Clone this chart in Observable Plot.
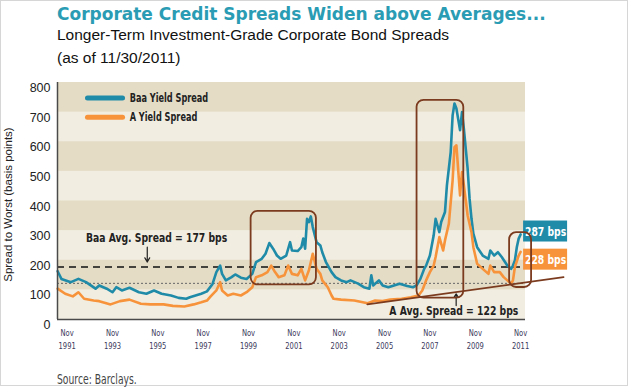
<!DOCTYPE html>
<html><head><meta charset="utf-8">
<script src="https://cdn.jsdelivr.net/npm/d3@7"></script>
<script src="https://cdn.jsdelivr.net/npm/@observablehq/plot@0.6"></script>
<style>
html,body{margin:0;padding:0;background:#fff;}
#wrap{position:relative;width:630px;height:387px;overflow:hidden;background:#fff;}
#border{position:absolute;left:0;top:0;width:626px;height:384px;border:1px solid #d6d6d6;}
.t{position:absolute;white-space:nowrap;line-height:1;}
#title{left:57px;top:4px;font:bold 17px "DejaVu Sans",sans-serif;color:#2a9cb3;}
#sub1{left:57px;top:26px;font:15.5px "Liberation Sans",Arial,sans-serif;color:#111;}
#sub2{left:57px;top:48.5px;font:15.5px "Liberation Sans",Arial,sans-serif;color:#111;}
#source{left:57px;top:370.5px;font:13.5px "DejaVu Sans Condensed",sans-serif;color:#444;transform:scaleX(0.76);transform-origin:0 0;}
svg{position:absolute;left:0;top:0;}
</style></head><body>
<div id="wrap">
<div id="border"></div>
<div class="t" id="title">Corporate Credit Spreads Widen above Averages...</div>
<div class="t" id="sub1">Longer-Term Investment-Grade Corporate Bond Spreads</div>
<div class="t" id="sub2">(as of 11/30/2011)</div>
<div class="t" id="source">Source: Barclays.</div>
</div>
<script>
// ---------- data ----------
const baaDates = ["1991-06","1991-08","1992-01","1992-05","1992-09","1993-02","1993-04","1993-08","1993-11","1994-01","1994-04","1994-08","1995-01","1995-05","1995-09","1996-01","1996-06","1996-10","1997-02","1997-04","1997-07","1997-10","1998-01","1998-04","1998-06","1998-08","1998-09","1998-11","1999-02","1999-04","1999-07","1999-10","2000-01","2000-03","2000-06","2000-08","2000-10","2000-12","2001-02","2001-04","2001-07","2001-09","2001-10","2002-01","2002-03","2002-04","2002-05","2002-06","2002-07","2002-08","2002-09","2002-11","2003-01","2003-02","2003-04","2003-07","2003-09","2003-12","2004-03","2004-05","2004-09","2004-12","2005-03","2005-04","2005-05","2005-08","2005-10","2006-01","2006-04","2006-07","2006-11","2007-02","2007-04","2007-06","2007-08","2007-09","2007-11","2008-01","2008-02","2008-04","2008-05","2008-07","2008-08","2008-10","2008-11","2008-12","2009-01","2009-03","2009-04","2009-05","2009-07","2009-08","2009-09","2009-10","2009-12","2010-03","2010-06","2010-07","2010-09","2010-11","2011-01","2011-04","2011-06","2011-07","2011-08","2011-09","2011-10","2011-11"];
const baaValues = [163,137,126,137,126,104,115,104,92,109,98,107,92,87,98,87,81,73,70,75,81,87,95,120,160,182,154,132,143,152,141,137,154,194,205,222,258,239,216,205,216,261,233,231,244,273,239,340,329,348,312,261,250,227,194,160,143,132,126,132,121,109,104,149,115,132,115,109,115,121,113,109,115,137,171,182,216,284,340,295,329,363,453,565,689,729,712,639,700,644,509,408,340,290,244,216,205,233,216,227,211,182,171,182,199,244,273,287];

const aDates = ["1991-06","1991-10","1992-02","1992-05","1992-08","1993-01","1993-04","1993-10","1994-03","1994-08","1995-02","1995-07","1996-02","1996-07","1997-01","1997-06","1997-10","1998-01","1998-03","1998-06","1998-08","1998-09","1998-12","1999-03","1999-07","1999-10","2000-01","2000-03","2000-06","2000-09","2000-11","2001-01","2001-03","2001-06","2001-08","2001-10","2002-01","2002-03","2002-05","2002-07","2002-08","2002-09","2002-11","2003-01","2003-02","2003-05","2003-07","2003-08","2003-12","2004-07","2005-02","2005-06","2005-10","2006-02","2006-08","2007-01","2007-05","2007-07","2007-09","2007-11","2008-01","2008-02","2008-04","2008-06","2008-07","2008-09","2008-11","2008-12","2009-01","2009-03","2009-04","2009-05","2009-07","2009-09","2009-10","2009-12","2010-03","2010-06","2010-07","2010-09","2010-12","2011-02","2011-04","2011-06","2011-07","2011-08","2011-10","2011-11"];
const aValues = [104,87,78,92,70,64,62,51,62,67,53,51,51,46,44,51,58,64,78,98,126,98,81,87,81,92,109,143,149,160,182,160,143,149,182,154,149,171,132,166,194,222,171,154,132,109,81,70,67,64,55,64,62,67,70,75,81,98,132,160,182,211,278,233,267,323,470,582,588,419,498,453,351,295,244,188,171,154,182,160,160,143,132,121,132,177,216,228];

const seriesNames = ["Baa Yield Spread", "A Yield Spread"];
const averageValues = [177, 122];
const averageLabels = ["Baa Avg. Spread = 177 bps", "A Avg. Spread = 122 bps"];
const lastValues = [287, 228];
const xTickYears = [1991,1993,1995,1997,1999,2001,2003,2005,2007,2009,2011];
const xTickMonth = "Nov";
const yTicks = [0,100,200,300,400,500,600,700,800];
const bandStarts = [100,300,500,700];

// highlight boxes (in data space)
const boxStart = ["1999-12-13","2007-04-08","2011-05-08"];
const boxEnd   = ["2002-10-30","2009-04-30","2012-04-26"];
const boxLow   = [117, 72, 108];
const boxHigh  = [365, 740, 293];
const trendDates = ["2005-01-26","2013-09-24"];
const trendValues = [51, 143];

// ---------- build ----------
const pm = d3.utcParse("%Y-%m");
const pd = d3.utcParse("%Y-%m-%d");
const baa = baaDates.map((d,i)=>({date: pm(d), value: baaValues[i]}));
const aS  = aDates.map((d,i)=>({date: pm(d), value: aValues[i]}));
const xTicks = xTickYears.map(y => new Date(Date.UTC(y,10,1)));
const boxes = boxStart.map((d,i)=>({x1: pd(d), x2: pd(boxEnd[i]), y1: boxLow[i], y2: boxHigh[i]}));
const trend = trendDates.map((d,i)=>({date: pd(d), value: trendValues[i]}));

const TEAL = "#1f8ba9", ORANGE = "#f7933b", BROWN = "#7b3b1f";
const NARROW = '"DejaVu Sans Condensed","Liberation Sans Narrow",sans-serif';
const x0 = pd("1991-05-30"), x1 = pd("2012-01-19");
const lastDate = baa[baa.length-1].date;

const legend = [
  {name: seriesNames[0], color: TEAL, y: 748},
  {name: seriesNames[1], color: ORANGE, y: 683}
];
const legendX1 = pd("1992-09-24"), legendX2 = pd("1994-04-12"), legendTX = pd("1994-08-05");
const legendLines = legend.flatMap(l => [{x: legendX1, y: l.y, name: l.name, color: l.color},{x: legendX2, y: l.y, name: l.name, color: l.color}]);

const endLabels = [
  {value: lastValues[0], y: 297, color: TEAL},
  {value: lastValues[1], y: 202, color: ORANGE}
];

const plot = Plot.plot({
  width: 630, height: 387,
  marginTop: 82, marginBottom: 68, marginLeft: 57, marginRight: 105,
  x: {type: "utc", domain: [x0, x1], axis: null},
  y: {domain: [0, 800], axis: null},
  style: {background: "transparent", overflow: "visible"},
  marks: [
    Plot.rect([0], {x1: () => x0, x2: () => x1, y1: () => 0, y2: () => 800, fill: "#f1ede0"}),
    Plot.rect(bandStarts, {x1: () => x0, x2: () => x1, y1: d => d, y2: d => d + 100, fill: "#e4dcc5"}),
    // legend
    Plot.line(legendLines, {x: "x", y: "y", z: "name", stroke: "color", strokeWidth: 5}),
    Plot.text(legend, {x: () => legendTX, y: "y", text: "name", textAnchor: "start", fontFamily: NARROW, fontWeight: "bold", fontSize: 11.5, fill: "#222"}),
    // average rules
    Plot.ruleY([averageValues[0]], {stroke: "#111", strokeWidth: 1.6, strokeDasharray: "7,5"}),
    Plot.ruleY([averageValues[1]], {stroke: "#666", strokeWidth: 1, strokeDasharray: "2,2"}),
    // series
    Plot.line(baa, {x: "date", y: "value", stroke: TEAL, strokeWidth: 2.6}),
    Plot.line(aS, {x: "date", y: "value", stroke: ORANGE, strokeWidth: 2.6}),
    // axes lines
    Plot.ruleY([0], {stroke: "#4a4a4a", strokeWidth: 1.5}),
    Plot.ruleX([x0], {stroke: "#4a4a4a", strokeWidth: 1.5}),
    // y tick labels
    Plot.text(yTicks, {x: () => x0, y: d => d, text: d => String(d), textAnchor: "end", dx: -7, dy: 5.5, fontFamily: '"Liberation Sans",Arial,sans-serif', fontSize: 12.5, fill: "#222"}),
    // x tick labels
    Plot.text(xTicks, {x: d => d, y: () => 0, text: () => xTickMonth, dy: 13, fontFamily: NARROW, fontSize: 9.5, fill: "#3d3b5c"}),
    Plot.text(xTicks, {x: d => d, y: () => 0, text: d => String(d.getUTCFullYear()), dy: 26, fontFamily: NARROW, fontSize: 9.5, fill: "#3d3b5c"}),
    // y axis title
    Plot.text(["Spread to Worst (basis points)"], {x: () => x0, y: () => 388, text: d => d, rotate: -90, dx: -49, fontFamily: '"Liberation Sans",Arial,sans-serif', fontSize: 11.5, fill: "#222"}),
    // average annotations
    Plot.text([averageLabels[0]], {x: () => pd("1995-10-12"), y: () => 276, text: d => d, fontFamily: NARROW, fontWeight: "bold", fontSize: 13, fill: "#222"}),
    Plot.text([averageLabels[1]], {x: () => pd("2008-11-20"), y: () => 30, text: d => d, fontFamily: NARROW, fontWeight: "bold", fontSize: 13, fill: "#222"}),
    Plot.arrow([0], {x1: () => pd("1995-05-15"), x2: () => pd("1995-05-15"), y1: () => 244, y2: () => 194, stroke: "#222", strokeWidth: 1.2, headLength: 6}),
    Plot.arrow([0], {x1: () => pd("2008-12-28"), x2: () => pd("2008-12-28"), y1: () => 47, y2: () => 87, stroke: "#222", strokeWidth: 1.2, headLength: 6}),
    // end labels
    Plot.rect(endLabels, {x1: () => lastDate, x2: () => lastDate, y1: "y", y2: "y", insetLeft: 3, insetRight: -47, insetTop: -10.5, insetBottom: -10.5, fill: "color"}),
    Plot.text(endLabels, {x: () => lastDate, y: "y", text: d => d.value + " bps", dx: 25, fill: "white", fontFamily: NARROW, fontWeight: "bold", fontSize: 13}),
    // highlight boxes and trend line
    Plot.rect(boxes, {x1: "x1", x2: "x2", y1: "y1", y2: "y2", fill: "none", stroke: BROWN, strokeWidth: 1.8, rx: 7}),
    Plot.line(trend, {x: "date", y: "value", stroke: BROWN, strokeWidth: 1.6})
  ]
});
document.getElementById("wrap").appendChild(plot);

// condense the narrow-font labels to mimic the condensed face of the original
plot.querySelectorAll("text").forEach(t => {
  const g = t.closest("g");
  const ff = (t.getAttribute("font-family") || (g && g.getAttribute("font-family")) || "");
  if (!ff.includes("Condensed")) return;
  const w = t.getComputedTextLength();
  if (w > 0) {
    t.setAttribute("textLength", (w * 0.79).toFixed(1));
    t.setAttribute("lengthAdjust", "spacingAndGlyphs");
  }
});
</script>
</body></html>
